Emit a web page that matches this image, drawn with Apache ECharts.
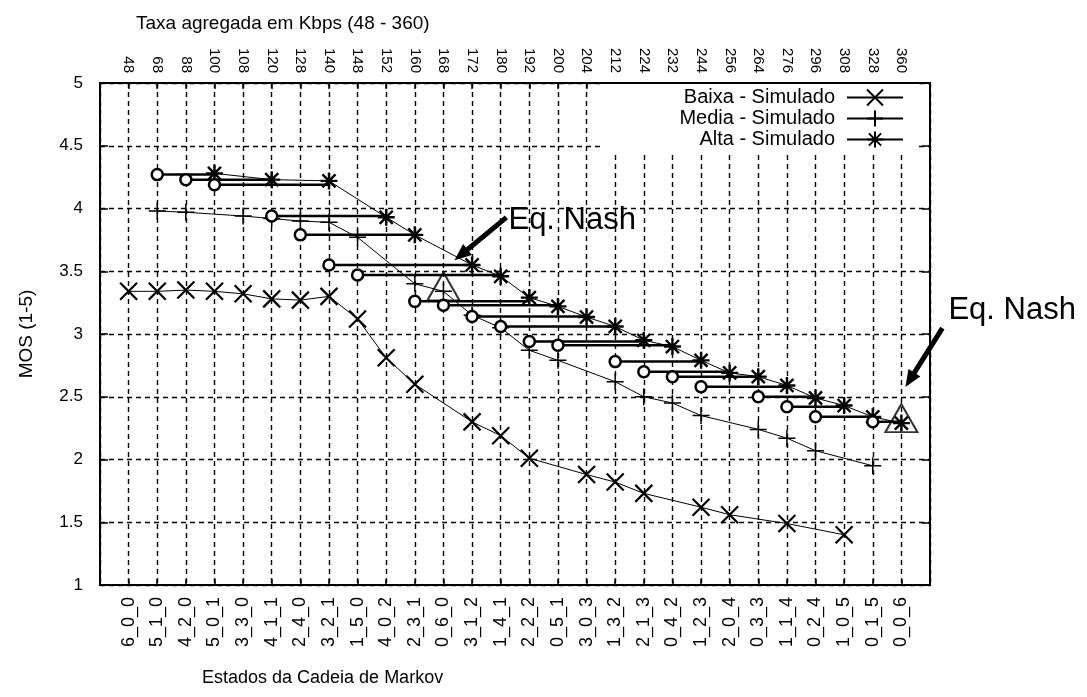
<!DOCTYPE html>
<html>
<head>
<meta charset="utf-8">
<script src="https://cdn.jsdelivr.net/npm/echarts@6/dist/echarts.min.js"></script>
<style>
  html, body { margin: 0; padding: 0; background: #fff; }
  #chart { width: 1087px; height: 697px; }
</style>
</head>
<body>
<div id="chart"></div>
<script>
// Markov chain states (low_medium_high user counts) and aggregate rate per state
const states = ['6_0_0','5_1_0','4_2_0','5_0_1','3_3_0','4_1_1','2_4_0','3_2_1','1_5_0','4_0_2',
  '2_3_1','0_6_0','3_1_2','1_4_1','2_2_2','0_5_1','3_0_3','1_3_2','2_1_3','0_4_2',
  '1_2_3','2_0_4','0_3_3','1_1_4','0_2_4','1_0_5','0_1_5','0_0_6'];
const rates = ['48','68','88','100','108','120','128','140','148','152','160','168','172','180',
  '192','200','204','212','224','232','244','256','264','276','296','308','328','360'];

// MOS per class (null where the state has no user of that class)
const baixa = [3.34, 3.34, 3.35, 3.34, 3.32, 3.28, 3.27, 3.30, 3.12, 2.81,
  2.60, null, 2.30, 2.19, 2.01, null, 1.88, 1.82, 1.73, null,
  1.62, 1.56, null, 1.49, null, 1.40, null, null];
const media = [null, 3.98, 3.97, null, 3.94, 3.92, 3.90, 3.89, 3.77, null,
  3.40, 3.34, 3.15, 3.05, 2.87, 2.79, null, 2.62, 2.50, 2.45,
  2.35, null, 2.24, 2.17, 2.07, null, 1.95, null];
const alta = [null, null, null, 4.28, null, 4.23, null, 4.22, null, 3.93,
  3.79, null, 3.55, 3.46, 3.29, 3.22, 3.135, 3.06, 2.95, 2.90,
  2.79, 2.69, 2.66, 2.59, 2.49, 2.43, 2.34, 2.29];

// Deviation of one medium user to high rate: origin state, destination state, MOS obtained
const devFrom = [1, 2, 3, 5, 6, 7, 8, 10, 11, 12, 13, 14, 15, 17, 18, 19, 20, 22, 23, 24, 26];
const devTo   = [3, 5, 7, 9, 10, 12, 13, 14, 15, 16, 17, 18, 19, 20, 21, 22, 23, 24, 25, 26, 27];
const devMos  = [4.27, 4.23, 4.19, 3.94, 3.79, 3.55, 3.47, 3.26, 3.23, 3.14, 3.06, 2.94, 2.91,
  2.78, 2.70, 2.66, 2.58, 2.50, 2.42, 2.34, 2.30];

// Nash equilibria
const nashIdx = [11, 27];
const nashMos = [3.34, 2.29];

const FONT = "'Liberation Sans', Arial, sans-serif";
const SYM_X = 'path://M0,0L10,10M10,0L0,10';
const SYM_PLUS = 'path://M5,0L5,10M0,5L10,5';
const SYM_STAR = 'path://M0,0L10,10M10,0L0,10M5,-1.5L5,11.5M-1.5,5L11.5,5';
const SYM_TRI = 'path://M5,0L10,8.7L0,8.7Z';

const toPoints = vals => vals.map((v, i) => v == null ? null : [i, v]).filter(Boolean);

function classSeries(name, vals, symbol, size, bw) {
  return {
    name, type: 'line', data: toPoints(vals),
    symbol, symbolSize: size,
    lineStyle: { color: '#000', width: 1 },
    itemStyle: { color: 'none', borderColor: '#000', borderWidth: bw },
    z: 3
  };
}

const series = [
  classSeries('Baixa - Simulado', baixa, SYM_X, 17, 2.2),
  classSeries('Media - Simulado', media, SYM_PLUS, 17, 1.5),
  classSeries('Alta - Simulado', alta, SYM_STAR, 17, 2.4)
];

devFrom.forEach((f, k) => {
  series.push({
    type: 'line',
    data: [{ value: [f, devMos[k]] }, { value: [devTo[k], devMos[k]], symbol: 'none' }],
    symbol: 'circle', symbolSize: 11,
    lineStyle: { color: '#000', width: 2.5 },
    itemStyle: { color: '#fff', borderColor: '#000', borderWidth: 2.5 },
    z: 4, silent: true
  });
});

series.push({
  type: 'scatter',
  data: nashIdx.map((i, k) => [i, nashMos[k]]),
  symbol: SYM_TRI, symbolSize: [32, 28], symbolOffset: [0, -5],
  itemStyle: { color: 'none', borderColor: '#000', borderWidth: 2 },
  z: 5, silent: true
});

const dashed = { show: true, lineStyle: { color: '#000', width: 1.4, type: [5, 4] } };
const solidAxis = { show: true, onZero: false, lineStyle: { color: '#000', width: 2 } };

const chart = echarts.init(document.getElementById('chart'));
chart.setOption({
  animation: false,
  backgroundColor: '#fff',
  textStyle: { fontFamily: FONT, color: '#000' },
  title: [
    { text: 'Taxa agregada em Kbps (48 - 360)', left: 131, top: 9,
      textStyle: { fontFamily: FONT, fontSize: 19, fontWeight: 'normal', color: '#000' } },
    { text: 'Estados da Cadeia de Markov', left: 197, top: 664,
      textStyle: { fontFamily: FONT, fontSize: 18, fontWeight: 'normal', color: '#000' } }
  ],
  legend: {
    data: ['Baixa - Simulado', 'Media - Simulado', 'Alta - Simulado'],
    orient: 'vertical', align: 'right', right: 170, top: 84,
    padding: [3, 13, 2, 79], backgroundColor: '#fff',
    itemWidth: 56, itemHeight: 20, itemGap: 0, selectedMode: false,
    textStyle: { fontFamily: FONT, fontSize: 20, lineHeight: 20, color: '#000', padding: [0, 7, 0, 0] }
  },
  grid: { left: 100, right: 157, top: 83, bottom: 112, show: true, borderColor: '#000', borderWidth: 2 },
  xAxis: [
    {
      type: 'value', min: -1, max: 28, interval: 1, position: 'bottom',
      axisLine: solidAxis,
      axisTick: { show: true, inside: true, length: 6, lineStyle: { color: '#000', width: 1.5 } },
      axisLabel: { rotate: 90, fontSize: 18, margin: 12, color: '#000', fontFamily: FONT,
        formatter: v => states[v] || '' },
      splitLine: dashed
    },
    {
      type: 'value', min: -1, max: 28, interval: 1, position: 'top',
      axisLine: solidAxis,
      axisTick: { show: true, inside: true, length: 6, lineStyle: { color: '#000', width: 1.5 } },
      axisLabel: { rotate: 90, fontSize: 15, margin: 10, color: '#000', fontFamily: FONT,
        formatter: v => rates[v] || '' },
      splitLine: { show: false }
    }
  ],
  yAxis: [
    {
      type: 'value', min: 1, max: 5, interval: 0.5, position: 'left',
      name: 'MOS (1-5)', nameLocation: 'middle', nameGap: 64,
      nameTextStyle: { fontFamily: FONT, fontSize: 19, color: '#000' },
      axisLine: solidAxis,
      axisTick: { show: true, inside: true, length: 8, lineStyle: { color: '#000', width: 1.5 } },
      axisLabel: { fontSize: 17, margin: 17, color: '#000', fontFamily: FONT },
      splitLine: dashed
    },
    {
      type: 'value', min: 1, max: 5, interval: 0.5, position: 'right',
      axisLine: solidAxis,
      axisTick: { show: true, inside: true, length: 8, lineStyle: { color: '#000', width: 1.5 } },
      axisLabel: { show: false },
      splitLine: { show: false }
    }
  ],
  series
});

// Arrow annotations pointing at each equilibrium
function arrowPoints(tail, tip, shaft, headLen, headW) {
  const dx = tip[0] - tail[0], dy = tip[1] - tail[1];
  const len = Math.hypot(dx, dy);
  const ux = dx / len, uy = dy / len, nx = -uy, ny = ux;
  const bx = tip[0] - ux * headLen, by = tip[1] - uy * headLen;
  return [
    [tail[0] + nx * shaft / 2, tail[1] + ny * shaft / 2],
    [bx + nx * shaft / 2, by + ny * shaft / 2],
    [bx + nx * headW / 2, by + ny * headW / 2],
    tip,
    [bx - nx * headW / 2, by - ny * headW / 2],
    [bx - nx * shaft / 2, by - ny * shaft / 2],
    [tail[0] - nx * shaft / 2, tail[1] - ny * shaft / 2]
  ];
}

const annot = [
  { tip: [11, -31], tail: [63, -74], text: [65, -71] },
  { tip: [4, -36], tail: [41, -95], text: [47, -113] }
];
const graphics = [];
nashIdx.forEach((i, k) => {
  const p = chart.convertToPixel({ xAxisIndex: 0, yAxisIndex: 0 }, [i, nashMos[k]]);
  const a = annot[k];
  const tip = [p[0] + a.tip[0], p[1] + a.tip[1]];
  const tail = [p[0] + a.tail[0], p[1] + a.tail[1]];
  graphics.push({
    type: 'polygon', shape: { points: arrowPoints(tail, tip, 5, 17, 14) },
    style: { fill: '#000' }, z: 10, silent: true
  });
  graphics.push({
    type: 'text', x: p[0] + a.text[0], y: p[1] + a.text[1], z: 10, silent: true,
    style: { text: 'Eq. Nash', font: '31px ' + FONT, fill: '#000', align: 'left', verticalAlign: 'middle' }
  });
});
chart.setOption({ graphic: graphics });
</script>
</body>
</html>
